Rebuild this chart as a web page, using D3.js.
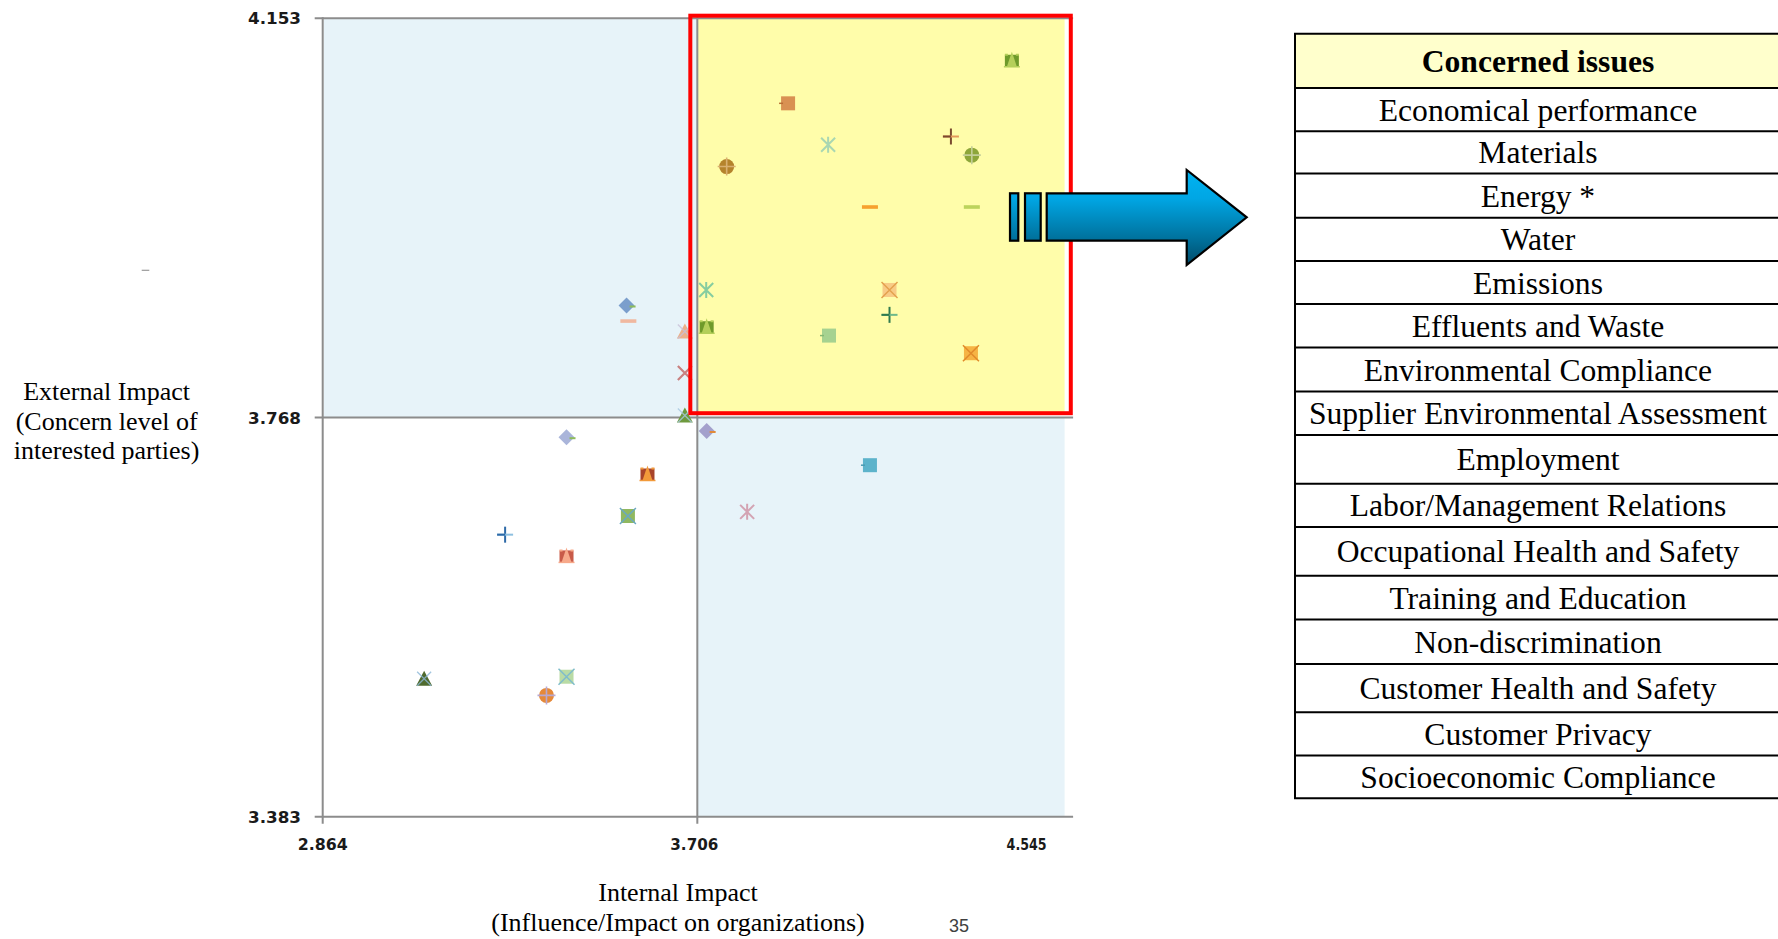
<!DOCTYPE html>
<html><head><meta charset="utf-8">
<script src="https://cdn.jsdelivr.net/npm/d3@7"></script>
<style>
html,body{margin:0;padding:0;background:#fff;overflow:hidden;}
svg{display:block;}
</style></head>
<body>
<svg id="chart" width="1778" height="939"></svg>
<script>
// ---------------- data ----------------
const xTicks = [2.864, 3.706, 4.545];
const yTicks = [3.383, 3.768, 4.153];
const xTickLabels = ["2.864", "3.706", "4.545"];
const yTickLabels = ["3.383", "3.768", "4.153"];

// Internal impact (x) and external impact (y) of each plotted issue
const internalImpact = [4.413, 3.910, 4.000, 4.276, 4.323, 3.772, 4.094, 4.323, 3.726, 4.138,
                        4.138, 3.727, 4.002, 4.321, 3.547, 3.551, 3.678, 3.678, 3.678, 3.727,
                        3.412, 3.594, 3.550, 3.274, 3.412, 4.094, 3.818, 3.092, 3.412, 3.367];
const externalImpact = [4.113, 4.071, 4.031, 4.039, 4.021, 4.010, 3.971, 3.971, 3.891, 3.891,
                        3.867, 3.856, 3.847, 3.830, 3.876, 3.861, 3.851, 3.811, 3.770, 3.755,
                        3.749, 3.714, 3.673, 3.655, 3.635, 3.722, 3.677, 3.516, 3.518, 3.500];

const issues = ["Economical performance", "Materials", "Energy *", "Water", "Emissions",
  "Effluents and Waste", "Environmental Compliance", "Supplier Environmental Assessment",
  "Employment", "Labor/Management Relations", "Occupational Health and Safety",
  "Training and Education", "Non-discrimination", "Customer Health and Safety",
  "Customer Privacy", "Socioeconomic Compliance"];
const tableHeader = "Concerned issues";
const xTitle = ["Internal Impact", "(Influence/Impact on organizations)"];
const yTitle = ["External Impact", "(Concern level of", "interested parties)"];
const pageNumber = "35";

// ---------------- styles ----------------
const markerShapes = ["bell","square","asterisk","plus","circleCross","circleCross","dash","dash","asterisk","squareX",
                      "plus","bell","square","squareX","diamond","dash","triangle","xmark","triangle","diamond",
                      "diamond","bell","squareX","plus","bell","square","asterisk","triangle","squareX","circleCross"];
const markerMain = ["#B5CF5A","#D99152","#A9D7B2","#7A4A30","#8DA63A","#B5832C","#F6A12E","#BCD35C","#86CDA0","#F8CB86",
                    "#2F7A4E","#B5CF5A","#A6D290","#F6B444","#7B9ECC","#F0B8A0","#EBB08A","#C98080","#6E9A3E","#A3A0CC",
                    "#AAB5DA","#F29A3A","#90B860","#2E6AA8","#F7A98A","#5DB3CB","#D3A3B3","#4F6A2E","#B9DBA5","#E5893A"];
const markerAccent = ["#6F9A2A","#B86E35","#A9D7B2","#E49A5C","#C4CF98","#D9B070","#F6A12E","#BCD35C","#86CDA0","#E3A24E",
                      "#6DB88A","#6F9A2A","#86B872","#E08A2A","#8DBB5A","#F0B8A0","#C9C0D8","#C98080","#A8C8E0","#E08A3A",
                      "#8DBB5A","#A8442A","#6AA8C0","#8EC0E0","#C85A48","#4A9AB2","#D3A3B3","#8CB8D8","#7FBCCB","#B8A8D0"];
const tableEdges = [33.7, 88, 131.2, 173.6, 217.7, 261, 304, 347.4, 391.6, 435, 483.7, 527, 575.8, 619.5, 663.9, 712.2, 755.5, 798.3];

const svg = d3.select("#chart");
const x = d3.scaleLinear().domain([xTicks[0], xTicks[2]]).range([322.7, 1070.6]);
const y = d3.scaleLinear().domain([yTicks[0], yTicks[2]]).range([816.7, 18.3]);
const grid = "#8C8C8C";
const fillRight = x(xTicks[2]) - 6;

// quadrant backgrounds
svg.append("rect").attr("x", x(xTicks[0]) + 1).attr("y", y(yTicks[2]))
  .attr("width", x(xTicks[1]) - x(xTicks[0]) - 1).attr("height", y(yTicks[1]) - y(yTicks[2]))
  .attr("fill", "#E7F3F9");
svg.append("rect").attr("x", x(xTicks[1])).attr("y", y(yTicks[1]))
  .attr("width", fillRight - x(xTicks[1])).attr("height", y(yTicks[0]) - y(yTicks[1]))
  .attr("fill", "#E7F3F9");
svg.append("rect").attr("x", x(xTicks[1])).attr("y", y(yTicks[2]))
  .attr("width", fillRight - x(xTicks[1])).attr("height", y(yTicks[1]) - y(yTicks[2]) - 3)
  .attr("fill", "#FFFDAA");

// horizontal gridlines + y ticks
svg.append("g").selectAll("line").data(yTicks).join("line")
  .attr("x1", x(xTicks[0]) - 8).attr("x2", x(xTicks[2]) + 2.5)
  .attr("y1", d => y(d)).attr("y2", d => y(d))
  .attr("stroke", grid).attr("stroke-width", 2);
// vertical lines (axis + midline)
svg.append("g").selectAll("line").data(xTicks.slice(0, 2)).join("line")
  .attr("x1", d => x(d)).attr("x2", d => x(d))
  .attr("y1", y(yTicks[2]) - 1).attr("y2", y(yTicks[0]) + 7)
  .attr("stroke", grid).attr("stroke-width", 2);

// tick labels
const tickFont = "'DejaVu Sans', Verdana, sans-serif";
svg.append("g").selectAll("text").data(yTicks).join("text")
  .attr("x", 301).attr("y", d => y(d) + 6)
  .attr("text-anchor", "end")
  .attr("font-family", tickFont).attr("font-size", 16).attr("font-weight", "bold").attr("fill", "#1a1a1a")
  .attr("textLength", 53).attr("lengthAdjust", "spacingAndGlyphs")
  .text((d, i) => yTickLabels[i]);
const xLabelShift = [0, -3, -44];
const xLabelLen = [50, 48, 40];
svg.append("g").selectAll("text").data(xTicks).join("text")
  .attr("x", (d, i) => x(d) + xLabelShift[i] - xLabelLen[i] / 2).attr("y", 850)
  .attr("font-family", tickFont).attr("font-size", 16).attr("font-weight", "bold").attr("fill", "#1a1a1a")
  .attr("textLength", (d, i) => xLabelLen[i]).attr("lengthAdjust", "spacingAndGlyphs")
  .text((d, i) => xTickLabels[i]);

// markers
function drawMarker(g, shape, c1, c2) {
  switch (shape) {
    case "square":
      g.append("rect").attr("x", -7).attr("y", -7).attr("width", 14).attr("height", 14).attr("fill", c1);
      g.append("line").attr("x1", -9).attr("x2", -5).attr("y1", 0).attr("y2", 0).attr("stroke", c2).attr("stroke-width", 1.5);
      break;
    case "squareX":
      g.append("rect").attr("x", -7).attr("y", -7).attr("width", 14).attr("height", 14).attr("fill", c1);
      g.append("path").attr("d", "M-8,-8L8,8M-8,8L8,-8").attr("stroke", c2).attr("stroke-width", 1.5);
      break;
    case "circleCross":
      g.append("circle").attr("r", 7.5).attr("fill", c1);
      g.append("path").attr("d", "M-9,0H9M0,-9V9").attr("stroke", c2).attr("stroke-width", 1.6);
      break;
    case "asterisk":
      g.append("path").attr("d", "M-7,-7L7,7M-7,7L7,-7M0,-8V8").attr("stroke", c1).attr("stroke-width", 2).attr("fill", "none");
      break;
    case "xmark":
      g.append("path").attr("d", "M-7,-7L7,7M-7,7L7,-7").attr("stroke", c1).attr("stroke-width", 2.2).attr("fill", "none");
      break;
    case "plus":
      g.append("path").attr("d", "M0,-8V8").attr("stroke", c1).attr("stroke-width", 2);
      g.append("path").attr("d", "M-8,0H8").attr("stroke", c2).attr("stroke-width", 2);
      g.append("path").attr("d", "M-8,0H0").attr("stroke", c1).attr("stroke-width", 2);
      break;
    case "dash":
      g.append("rect").attr("x", -8).attr("y", -1.8).attr("width", 16).attr("height", 3.6).attr("fill", c1);
      break;
    case "diamond":
      g.append("path").attr("d", "M0,-8L8,0L0,8L-8,0Z").attr("fill", c1);
      g.append("path").attr("d", "M3,1H9").attr("stroke", c2).attr("stroke-width", 2);
      break;
    case "triangle":
      g.append("path").attr("d", "M0,-8L8,7H-8Z").attr("fill", c1);
      g.append("path").attr("d", "M-7,-7L7,7M-7,7L7,-7").attr("stroke", c2).attr("stroke-width", 1.3).attr("opacity", 0.8);
      break;
    case "bell":
      g.append("rect").attr("x", -7).attr("y", -5).attr("width", 14).attr("height", 12).attr("fill", c2);
      g.append("path").attr("d", "M0,-8L5,7H-5Z").attr("fill", c1);
      g.append("path").attr("d", "M-7,-5H-4M4,-5H7").attr("stroke", c1).attr("stroke-width", 2);
      g.append("line").attr("x1", -8).attr("x2", 8).attr("y1", 7).attr("y2", 7).attr("stroke", c1).attr("stroke-width", 1.5);
      break;
  }
}
const markG = svg.append("g");
internalImpact.forEach((v, i) => {
  const g = markG.append("g").attr("transform", `translate(${x(v)},${y(externalImpact[i])})`);
  drawMarker(g, markerShapes[i], markerMain[i], markerAccent[i]);
});

// red highlight frame
svg.append("rect").attr("x", x(xTicks[1]) - 7).attr("y", y(yTicks[2]) - 2.6)
  .attr("width", x(xTicks[2]) - x(xTicks[1]) + 7.2).attr("height", y(yTicks[1]) - y(yTicks[2]) - 1.7)
  .attr("fill", "none").attr("stroke", "#FF0000").attr("stroke-width", 4);

// arrow
const defs = svg.append("defs");
const grad = defs.append("linearGradient").attr("id", "arrowGrad")
  .attr("gradientUnits", "userSpaceOnUse").attr("x1", 0).attr("x2", 0).attr("y1", 170).attr("y2", 265);
grad.append("stop").attr("offset", "0%").attr("stop-color", "#00B4F2");
grad.append("stop").attr("offset", "30%").attr("stop-color", "#00A6E4");
grad.append("stop").attr("offset", "75%").attr("stop-color", "#006E98");
grad.append("stop").attr("offset", "100%").attr("stop-color", "#004A68");
const arrowG = svg.append("g").attr("fill", "url(#arrowGrad)").attr("stroke", "#000").attr("stroke-width", 2.2);
arrowG.append("rect").attr("x", 1010).attr("y", 193.3).attr("width", 8.3).attr("height", 47.4);
arrowG.append("rect").attr("x", 1025).attr("y", 193.3).attr("width", 15.7).attr("height", 47.4);
arrowG.append("path").attr("d", "M1046.7,193.3H1186.7V170L1246.7,217.3L1186.7,265V240.7H1046.7Z");

// small stray dash at left
svg.append("line").attr("x1", 141.7).attr("x2", 149.3).attr("y1", 270.3).attr("y2", 270.3)
  .attr("stroke", "#999").attr("stroke-width", 1.2);

// axis titles
const serif = "'Liberation Serif', 'Times New Roman', serif";
svg.append("g").selectAll("text").data(yTitle).join("text")
  .attr("x", 106.6).attr("y", (d, i) => 400 + i * 29.5)
  .attr("text-anchor", "middle").attr("font-family", serif).attr("font-size", 26).attr("fill", "#000")
  .text(d => d);
svg.append("g").selectAll("text").data(xTitle).join("text")
  .attr("x", 678).attr("y", (d, i) => 901 + i * 29.5)
  .attr("text-anchor", "middle").attr("font-family", serif).attr("font-size", 26).attr("fill", "#000")
  .text(d => d);

svg.append("text").attr("x", 949).attr("y", 932)
  .attr("font-family", "'Liberation Sans', Arial, sans-serif").attr("font-size", 18).attr("fill", "#404040")
  .text(pageNumber);

// table
const tLeft = 1295, tRight = 1781, tCenter = (tLeft + tRight) / 2;
const tg = svg.append("g");
tg.append("rect").attr("x", tLeft).attr("y", tableEdges[0]).attr("width", tRight - tLeft)
  .attr("height", tableEdges[1] - tableEdges[0]).attr("fill", "#FFFFCC");
tg.selectAll("line.h").data(tableEdges).join("line").attr("class", "h")
  .attr("x1", tLeft - 1).attr("x2", tRight + 1).attr("y1", d => d).attr("y2", d => d)
  .attr("stroke", "#000").attr("stroke-width", 2);
tg.append("line").attr("x1", tLeft).attr("x2", tLeft)
  .attr("y1", tableEdges[0]).attr("y2", tableEdges[tableEdges.length - 1])
  .attr("stroke", "#000").attr("stroke-width", 2);
tg.append("text").attr("x", tCenter).attr("y", (tableEdges[0] + tableEdges[1]) / 2 + 11)
  .attr("text-anchor", "middle").attr("font-family", serif).attr("font-weight", "bold")
  .attr("font-size", 31.6).attr("fill", "#000").text(tableHeader);
tg.selectAll("text.row").data(issues).join("text").attr("class", "row")
  .attr("x", tCenter).attr("y", (d, i) => (tableEdges[i + 1] + tableEdges[i + 2]) / 2 + 11)
  .attr("text-anchor", "middle").attr("font-family", serif)
  .attr("font-size", 31.6).attr("fill", "#000").text(d => d);
</script>
</body></html>
